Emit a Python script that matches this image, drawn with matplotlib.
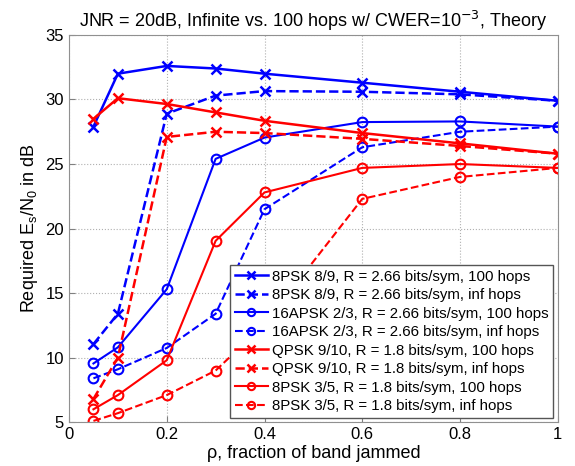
import matplotlib.pyplot as plt

plt.rcParams['font.family'] = ['Liberation Sans', 'DejaVu Sans']

rho = [0.05, 0.1, 0.2, 0.3, 0.4, 0.6, 0.8, 1.0]

psk8_89_100 = [27.9, 32.0, 32.6, 32.4, 32.0, 31.3, 30.6, 29.9]
psk8_89_inf = [11.05, 13.4, 28.9, 30.3, 30.65, 30.6, 30.4, 29.9]
apsk16_23_100 = [9.55, 10.8, 15.3, 25.4, 27.05, 28.25, 28.3, 27.9]
apsk16_23_inf = [8.4, 9.1, 10.75, 13.4, 21.5, 26.3, 27.5, 27.9]
qpsk_910_100 = [28.5, 30.1, 29.65, 29.0, 28.35, 27.4, 26.6, 25.8]
qpsk_910_inf = [6.8, 10.0, 27.1, 27.5, 27.4, 26.95, 26.4, 25.8]
psk8_35_100 = [6.0, 7.1, 9.8, 19.05, 22.8, 24.7, 25.0, 24.7]
psk8_35_inf = [5.1, 5.7, 7.1, 9.0, 12.6, 22.3, 24.0, 24.7]

labels = ['8PSK 8/9, R = 2.66 bits/sym, 100 hops',
          '8PSK 8/9, R = 2.66 bits/sym, inf hops',
          '16APSK 2/3, R = 2.66 bits/sym, 100 hops',
          '16APSK 2/3, R = 2.66 bits/sym, inf hops',
          'QPSK 9/10, R = 1.8 bits/sym, 100 hops',
          'QPSK 9/10, R = 1.8 bits/sym, inf hops',
          '8PSK 3/5, R = 1.8 bits/sym, 100 hops',
          '8PSK 3/5, R = 1.8 bits/sym, inf hops']

series = [psk8_89_100, psk8_89_inf, apsk16_23_100, apsk16_23_inf,
          qpsk_910_100, qpsk_910_inf, psk8_35_100, psk8_35_inf]
colors = ['#0000ff'] * 4 + ['#ff0000'] * 4
markers = ['x', 'x', 'o', 'o'] * 2
styles = ['-', '--'] * 4

fig = plt.figure(figsize=(5.75, 4.66), dpi=100)
ax = fig.add_axes([0.12, 0.094, 0.85, 0.831])

for y, lab, c, m, ls in zip(series, labels, colors, markers, styles):
    if m == 'x':
        ax.plot(rho, y, ls, color=c, marker=m, markersize=7, mew=1.8,
                lw=1.8, label=lab)
    else:
        ax.plot(rho, y, ls, color=c, marker=m, markersize=7, mew=1.5,
                mfc='none', lw=1.5, label=lab)

ax.set_xlim(0, 1)
ax.set_ylim(5, 35)
ax.set_xticks([0, 0.2, 0.4, 0.6, 0.8, 1])
ax.set_xticklabels(['0', '0.2', '0.4', '0.6', '0.8', '1'])
ax.set_yticks(range(5, 36, 5))
ax.tick_params(direction='in', labelsize=12, length=4, color='#808080')
ax.grid(True, linestyle=':', color='#b0b0b0', lw=0.8)
for sp in ax.spines.values():
    sp.set_color('#909090')

ax.set_title('JNR = 20dB, Infinite vs. 100 hops w/ CWER=10$^{-3}$, Theory',
             fontsize=13, pad=6)
ax.set_xlabel('ρ, fraction of band jammed', fontsize=13, labelpad=2)
ax.set_ylabel(r'Required E$_\mathregular{s}$/N$_\mathregular{0}$ in dB', fontsize=13)

leg = ax.legend(loc='lower right', fontsize=10.8, handlelength=2.2,
                handletextpad=0.3, labelspacing=0.3, borderpad=0.3,
                fancybox=False, framealpha=1, borderaxespad=0.3,
                markerscale=0.75)
leg.get_frame().set_edgecolor('#555555')

fig.savefig('out.png', dpi=100)
